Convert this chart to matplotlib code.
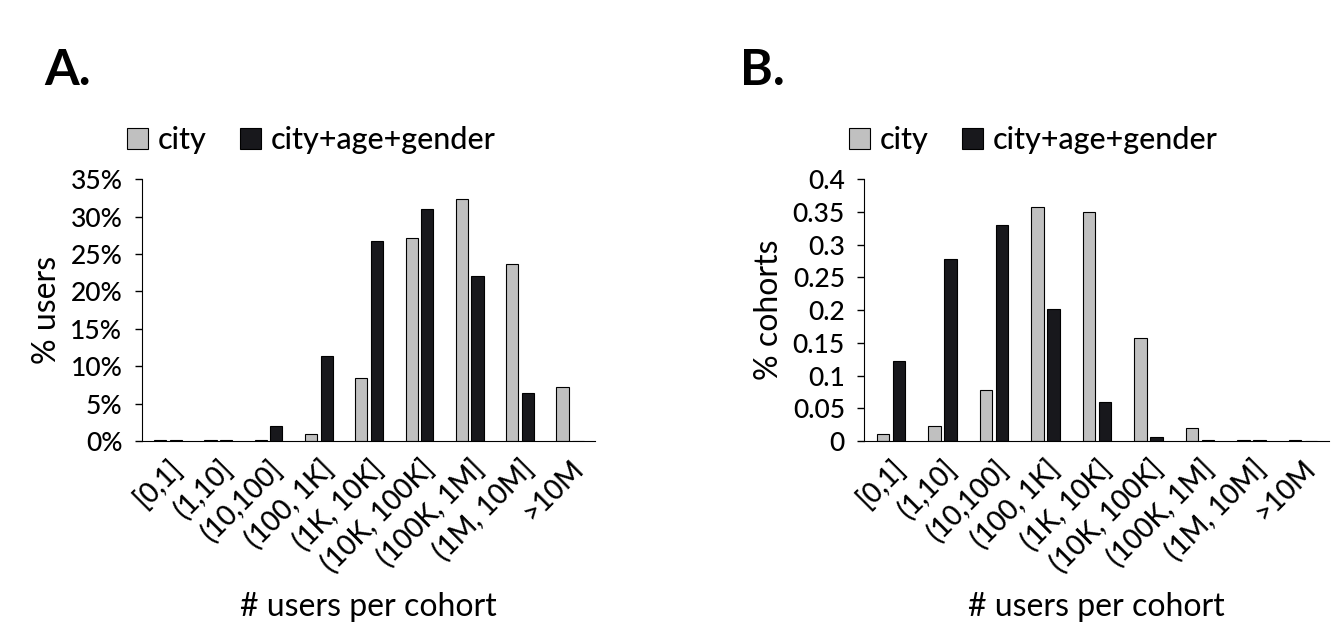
import numpy as np
import matplotlib
matplotlib.use("Agg")
import matplotlib.pyplot as plt
from matplotlib.ticker import FuncFormatter

plt.rcParams['font.family'] = ['Lato', 'DejaVu Sans']
plt.rcParams['font.weight'] = 500

bins = ["[0,1]", "(1,10]", "(10,100]", "(100, 1K]", "(1K, 10K]",
        "(10K, 100K]", "(100K, 1M]", "(1M, 10M]", ">10M"]
series = ["city", "city+age+gender"]

# panel A: % users
users_city = [0.1, 0.1, 0.1, 0.9, 8.4, 27.2, 32.4, 23.6, 7.2]
users_cag = [0.1, 0.1, 2.0, 11.3, 26.7, 31.0, 22.1, 6.4, 0.0]

# panel B: fraction of cohorts
cohorts_city = [0.011, 0.023, 0.078, 0.357, 0.350, 0.157, 0.020, 0.001, 0.001]
cohorts_cag = [0.122, 0.278, 0.330, 0.201, 0.060, 0.006, 0.001, 0.001, 0.0]

GRAY = "#c0c0c0"
DARK = "#18181c"

fig = plt.figure(figsize=(13.38, 6.4), dpi=100)
axA = fig.add_axes([0.106, 0.311, 0.339, 0.409])
axB = fig.add_axes([0.646, 0.311, 0.347, 0.409])

x = np.arange(len(bins))
w = 0.24


def draw(ax, a, b, ylim, yticks, fmt, ylabel):
    ax.bar(x - w / 2 - 0.035, a, w, color=GRAY, edgecolor="black", linewidth=0.8,
           label=series[0])
    ax.bar(x + w / 2 + 0.035, b, w, color=DARK, edgecolor="black", linewidth=0.8,
           label=series[1])
    ax.set_xlim(-0.52, len(bins) - 0.5)
    ax.set_ylim(*ylim)
    ax.set_yticks(yticks)
    ax.yaxis.set_major_formatter(FuncFormatter(fmt))
    ax.set_xticks(x)
    ax.set_xticklabels(bins, rotation=45, ha="right", rotation_mode="anchor",
                       fontsize=20)
    ax.tick_params(axis="x", length=0, pad=10)
    ax.tick_params(axis="y", labelsize=19, length=5, width=1, direction="out",
                   pad=9)
    for s in ("top", "right"):
        ax.spines[s].set_visible(False)
    ax.set_ylabel(ylabel, fontsize=23, labelpad=6)
    ax.set_xlabel("# users per cohort", fontsize=23, labelpad=10)
    ax.legend(loc="lower left", bbox_to_anchor=(-0.06, 1.05), ncol=2,
              frameon=False, fontsize=22, handlelength=0.7, handleheight=0.7,
              handletextpad=0.3, columnspacing=1.1, borderaxespad=0)


draw(axA, users_city, users_cag, (0, 35), np.arange(0, 36, 5),
     lambda v, p: f"{v:.0f}%", "% users")
draw(axB, cohorts_city, cohorts_cag, (0, 0.4), np.arange(0, 0.41, 0.05),
     lambda v, p: "0" if v == 0 else f"{v:.2f}".rstrip("0"), "% cohorts")

fig.text(0.033, 0.89, "A.", fontsize=36, fontweight="bold", va="center")
fig.text(0.553, 0.89, "B.", fontsize=36, fontweight="bold", va="center")

fig.savefig("out.png", dpi=100)
